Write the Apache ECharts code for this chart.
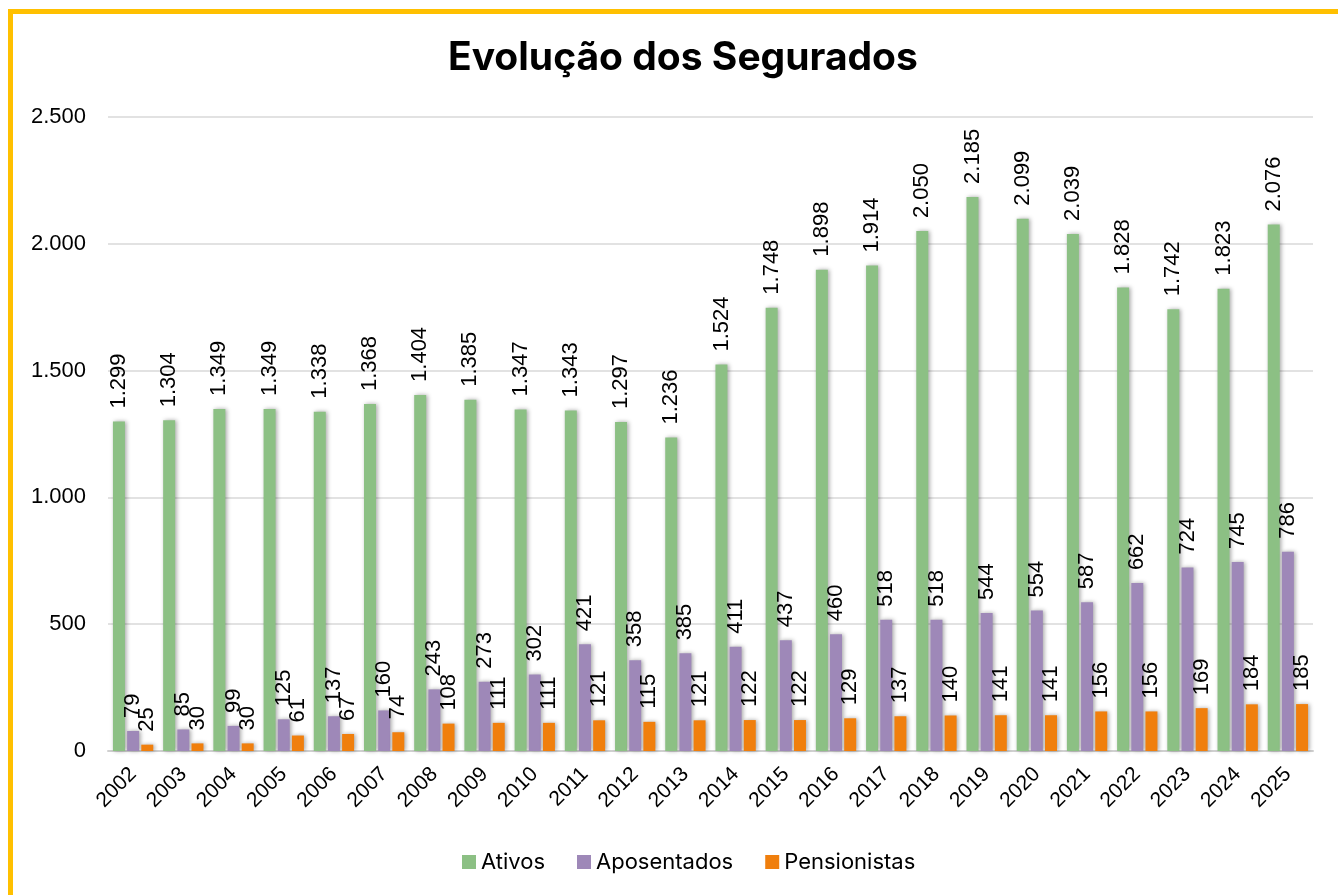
<!DOCTYPE html>
<html>
<head>
<meta charset="utf-8">
<script src="https://cdn.jsdelivr.net/npm/echarts@6/dist/echarts.min.js"></script>
<style>
  html, body { margin: 0; padding: 0; background: #fff; overflow: hidden; }
  #frame {
    position: absolute; left: 8px; top: 9px; width: 1340px; height: 900px;
    border: 5px solid #FFC000; box-sizing: border-box;
  }
  #chart { position: absolute; left: 0; top: 0; width: 1338px; height: 895px; }
</style>
</head>
<body>
<div id="frame"></div>
<div id="chart"></div>
<script>
const years = ["2002","2003","2004","2005","2006","2007","2008","2009","2010","2011","2012","2013",
  "2014","2015","2016","2017","2018","2019","2020","2021","2022","2023","2024","2025"];
const ativos = [1299,1304,1349,1349,1338,1368,1404,1385,1347,1343,1297,1236,
  1524,1748,1898,1914,2050,2185,2099,2039,1828,1742,1823,2076];
const aposentados = [79,85,99,125,137,160,243,273,302,421,358,385,
  411,437,460,518,518,544,554,587,662,724,745,786];
const pensionistas = [25,30,30,61,67,74,108,111,111,121,115,121,
  122,122,129,137,140,141,141,156,156,169,184,185];

// separador de milhar com ponto
const fmt = (v) => String(v).replace(/\B(?=(\d{3})+(?!\d))/g, ".");

const font = "'Liberation Sans', Arial, sans-serif";

const makeSeries = (name, data, color) => ({
  name: name,
  type: "bar",
  data: data,
  barWidth: 12,
  barGap: "18%",
  itemStyle: {
    color: color,
    shadowColor: "rgba(0,0,0,0.35)",
    shadowBlur: 4,
    shadowOffsetX: 1.5,
    shadowOffsetY: 0,
  },
  label: {
    show: true,
    position: "top",
    rotate: 90,
    align: "left",
    verticalAlign: "middle",
    distance: 13,
    color: "#000",
    fontSize: 22,
    fontFamily: font,
    formatter: (p) => fmt(p.value),
  },
});

const chart = echarts.init(document.getElementById("chart"));
chart.setOption({
  animation: false,
  title: {
    text: "Evolução dos Segurados",
    left: 443,
    top: 34,
    textStyle: { fontSize: 39, fontWeight: "bold", color: "#000", fontFamily: "Inter, 'Liberation Sans', sans-serif" },
  },
  legend: {
    bottom: 17,
    left: 457,
    itemWidth: 14,
    itemHeight: 14,
    itemGap: 32,
    icon: "rect",
    textStyle: { fontSize: 22, color: "#000", fontFamily: "Inter, 'Liberation Sans', sans-serif" },
    data: ["Ativos", "Aposentados", "Pensionistas"],
  },
  grid: { left: 108, right: 25, top: 117, bottom: 144 },
  xAxis: {
    type: "category",
    data: years,
    axisLine: { lineStyle: { color: "#D0D0D0", width: 2 } },
    axisTick: { show: false },
    axisLabel: { rotate: 45, color: "#000", fontSize: 21, fontFamily: font, margin: 20 },
  },
  yAxis: {
    type: "value",
    min: 0,
    max: 2500,
    interval: 500,
    axisLine: { show: false },
    axisTick: { show: false },
    splitLine: { lineStyle: { color: "#D9D9D9", width: 1.5 } },
    axisLabel: { color: "#000", fontSize: 22, fontFamily: font, margin: 22, formatter: fmt },
  },
  series: [
    makeSeries("Ativos", ativos, "#8CC084"),
    makeSeries("Aposentados", aposentados, "#9E88B8"),
    makeSeries("Pensionistas", pensionistas, "#F07F0D"),
  ],
});
</script>
</body>
</html>
